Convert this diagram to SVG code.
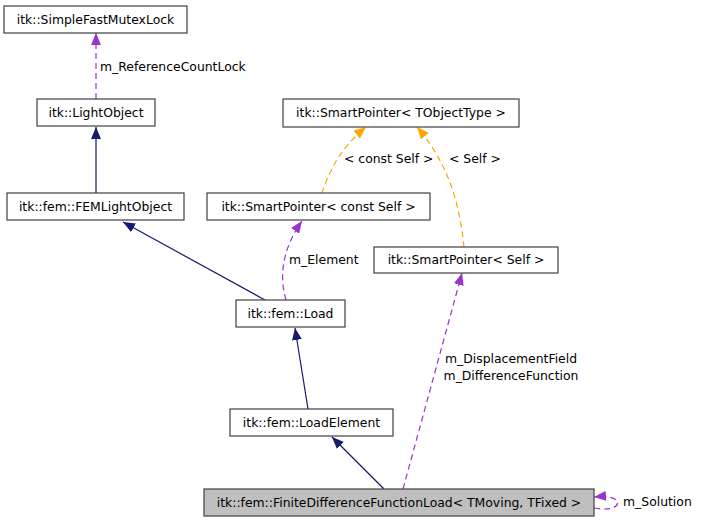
<svg xmlns="http://www.w3.org/2000/svg" width="701" height="523" viewBox="0 0 701 523">
<style>
.box{fill:#fff;stroke:#404040;stroke-width:1.2}
.gray{fill:#bfbfbf}
text{font-family:"DejaVu Sans","Liberation Sans",sans-serif;font-size:12.4px;fill:#000}
.n{text-anchor:middle}
.inh{fill:none;stroke:#191970;stroke-width:1.2}
.use{fill:none;stroke:#9a32cd;stroke-width:1.2;stroke-dasharray:6,4}
.tpl{fill:none;stroke:#ffa500;stroke-width:1.2;stroke-dasharray:6,4}
</style>
<defs>
<marker id="aN" markerUnits="userSpaceOnUse" viewBox="0 0 12 10" refX="12" refY="5" markerWidth="12" markerHeight="10" orient="auto"><path d="M0,0 L12,5 L0,10 Z" fill="#191970"/></marker>
<marker id="aP" markerUnits="userSpaceOnUse" viewBox="0 0 12 10" refX="12" refY="5" markerWidth="12" markerHeight="10" orient="auto"><path d="M0,0 L12,5 L0,10 Z" fill="#9a32cd"/></marker>
<marker id="aO" markerUnits="userSpaceOnUse" viewBox="0 0 12 10" refX="12" refY="5" markerWidth="12" markerHeight="10" orient="auto"><path d="M0,0 L12,5 L0,10 Z" fill="#ffa500"/></marker>
</defs>
<g id="edges">
<path class="use" d="M96,99 L96,33" marker-end="url(#aP)"/>
<text x="100" y="71">m_ReferenceCountLock</text>
<path class="inh" d="M96,193 L96,127" marker-end="url(#aN)"/>
<path class="inh" d="M265,300 L123,222" marker-end="url(#aN)"/>
<path class="use" d="M286,300 C280,280 280,252 302,221" marker-end="url(#aP)"/>
<text x="289" y="264">m_Element</text>
<path class="tpl" d="M322,193 C328,175 338,150 366,127" marker-end="url(#aO)"/>
<text x="344" y="163">&lt; const Self &gt;</text>
<path class="tpl" d="M464,247 C460,210 452,168 417,127" marker-end="url(#aO)"/>
<text x="449" y="163">&lt; Self &gt;</text>
<path class="inh" d="M308,409 L295,328" marker-end="url(#aN)"/>
<path class="inh" d="M384,489 L332,437" marker-end="url(#aN)"/>
<path class="use" d="M403,489 L462,273" marker-end="url(#aP)"/>
<text x="511" y="363" class="n">m_DisplacementField</text>
<text x="511" y="380" class="n">m_DifferenceFunction</text>
<path class="use" d="M594,508 C610,511 620,507 617,501 C614,497 606,496 594,497" marker-end="url(#aP)"/>
<text x="623" y="506">m_Solution</text>
</g>
<g id="SimpleFastMutexLock"><rect class="box" x="4" y="6" width="183" height="27"/><text class="n" x="95.5" y="24">itk::SimpleFastMutexLock</text></g>
<g id="LightObject"><rect class="box" x="37" y="99" width="118" height="27"/><text class="n" x="96" y="117">itk::LightObject</text></g>
<g id="FEMLightObject"><rect class="box" x="7" y="193" width="177" height="27"/><text class="n" x="95.5" y="211">itk::fem::FEMLightObject</text></g>
<g id="SmartPointerConstSelf"><rect class="box" x="207" y="193" width="223" height="27"/><text class="n" x="318.5" y="211">itk::SmartPointer&lt; const Self &gt;</text></g>
<g id="SmartPointerTObjectType"><rect class="box" x="283" y="99" width="236" height="28"/><text class="n" x="401" y="117">itk::SmartPointer&lt; TObjectType &gt;</text></g>
<g id="SmartPointerSelf"><rect class="box" x="374" y="247" width="184" height="26"/><text class="n" x="466" y="264">itk::SmartPointer&lt; Self &gt;</text></g>
<g id="Load"><rect class="box" x="236" y="300" width="109" height="27"/><text class="n" x="290.5" y="318">itk::fem::Load</text></g>
<g id="LoadElement"><rect class="box" x="230" y="409" width="163" height="27"/><text class="n" x="311.5" y="427">itk::fem::LoadElement</text></g>
<g id="FiniteDifferenceFunctionLoad"><rect class="box gray" x="204" y="489" width="390" height="27"/><text class="n" x="399" y="507">itk::fem::FiniteDifferenceFunctionLoad&lt; TMoving, TFixed &gt;</text></g>
</svg>
